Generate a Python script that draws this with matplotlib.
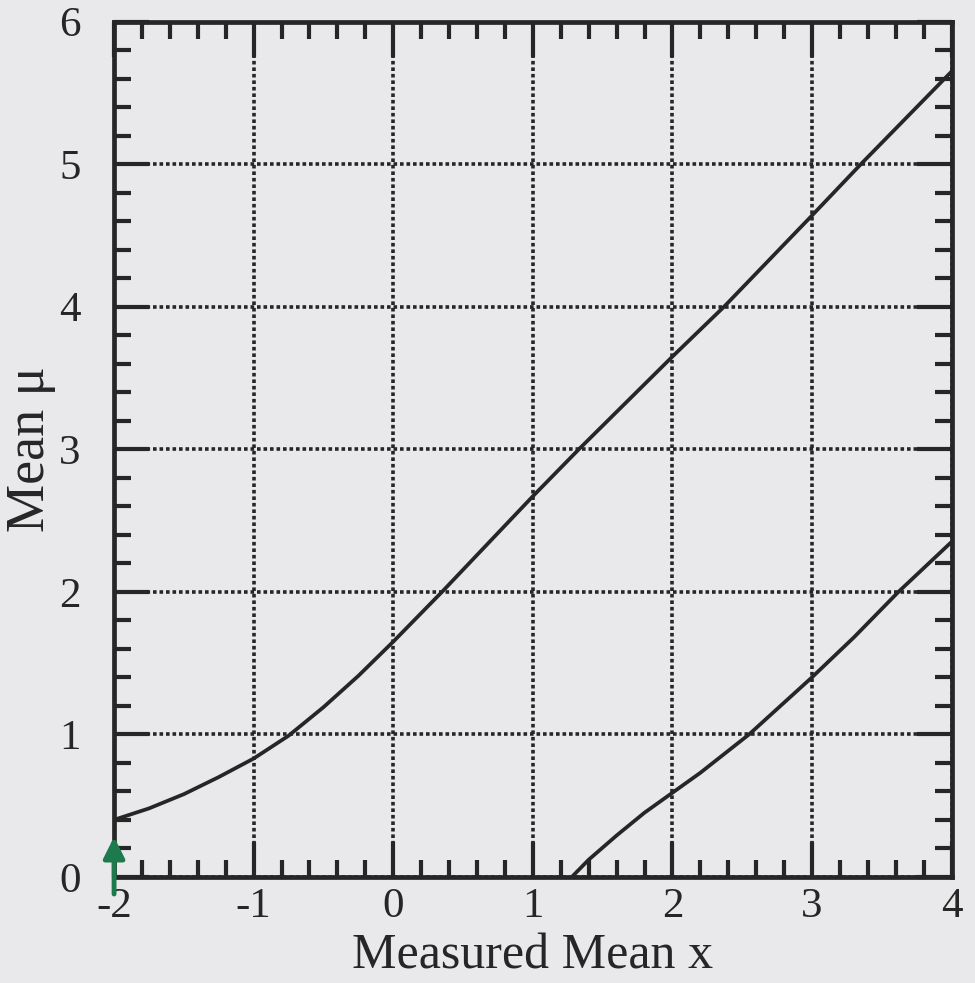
import matplotlib
matplotlib.use("Agg")
import matplotlib.pyplot as plt
from matplotlib.ticker import MultipleLocator

plt.rcParams['font.family'] = ['Liberation Serif', 'DejaVu Serif']
plt.rcParams['axes.unicode_minus'] = False

# upper edge of the belt
upper_x = [-2.0, -1.75, -1.5, -1.25, -1.0, -0.75, -0.5, -0.25, 0.0, 0.35, 1.0, 1.33, 2.0, 2.37, 3.0, 3.35, 4.0]
upper_mu = [0.40, 0.48, 0.58, 0.70, 0.83, 0.99, 1.19, 1.41, 1.65, 2.00, 2.67, 3.00, 3.65, 4.00, 4.64, 5.00, 5.65]

# lower edge
lower_x = [1.28, 1.4, 1.6, 1.8, 2.0, 2.2, 2.55, 3.0, 3.3, 3.62, 4.0]
lower_mu = [0.0, 0.12, 0.29, 0.45, 0.59, 0.73, 1.00, 1.40, 1.68, 2.00, 2.35]

x_ticks = [-2, -1, 0, 1, 2, 3, 4]
y_ticks = [0, 1, 2, 3, 4, 5, 6]

ink = '#262626'
paper = '#e9e9eb'

fig = plt.figure(figsize=(9.75, 9.83), dpi=100, facecolor=paper)
ax = fig.add_axes([0.117, 0.108, 0.859, 0.870], facecolor=paper)

ax.plot(upper_x, upper_mu, color=ink, lw=2.7, solid_capstyle='butt',
        solid_joinstyle='round', clip_on=False, zorder=3)
ax.plot(lower_x, lower_mu, color=ink, lw=2.7, solid_capstyle='butt',
        solid_joinstyle='round', clip_on=False, zorder=3)

ax.set_xlim(-2, 4)
ax.set_ylim(0, 6)
ax.set_xticks(x_ticks)
ax.set_yticks(y_ticks)
ax.xaxis.set_minor_locator(MultipleLocator(0.2))
ax.yaxis.set_minor_locator(MultipleLocator(0.2))

ax.grid(True, which='major', color=ink, lw=2.6, linestyle=(0, (1, 0.8)), zorder=1)
ax.set_axisbelow(True)

ax.tick_params(which='major', direction='in', length=25, width=3.0, color=ink,
               top=True, right=True, labelsize=31, labelcolor=ink)
ax.tick_params(which='minor', direction='in', length=12, width=3.0, color=ink,
               top=True, right=True)
ax.tick_params(axis='y', which='major', pad=24)
ax.tick_params(axis='x', which='major', pad=8)

for s in ax.spines.values():
    s.set_linewidth(3.4)
    s.set_color(ink)

ax.set_xlabel('Measured Mean x', fontsize=36, color=ink, labelpad=5)
ax.set_ylabel('Mean μ', fontsize=39, color=ink, labelpad=2)

# green hand-drawn arrow at the corner
ax.annotate('', xy=(-2.0, 0.30), xytext=(-2.0, -0.14),
            arrowprops=dict(arrowstyle='-|>', color='#1d7a4c', lw=3.5, mutation_scale=32),
            annotation_clip=False, zorder=5)

fig.savefig('out.png', dpi=100, facecolor=paper)
